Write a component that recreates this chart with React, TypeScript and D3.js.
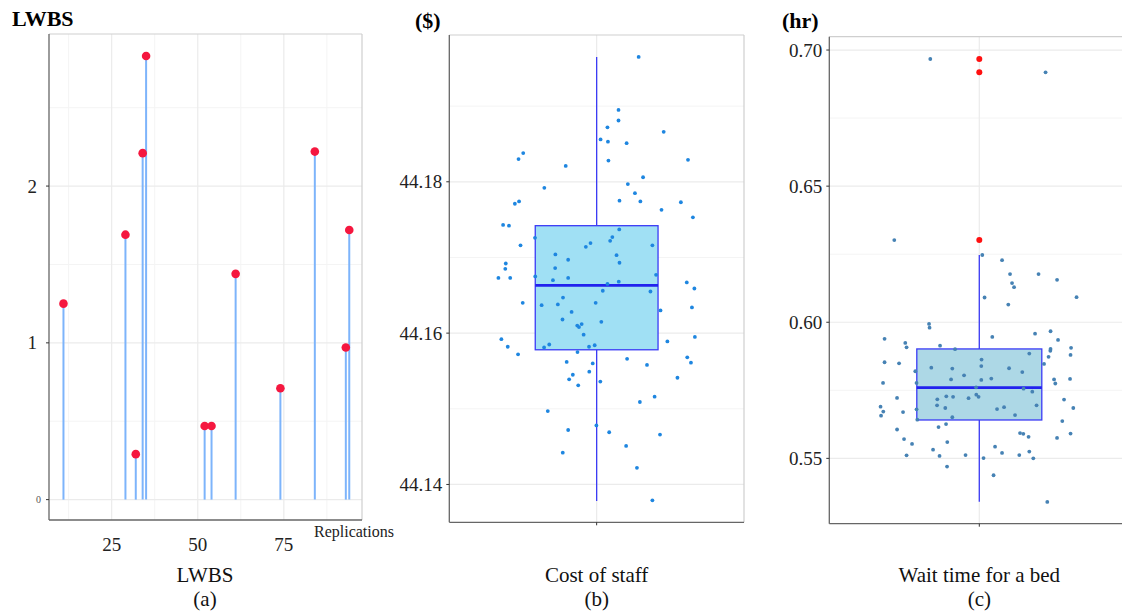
import React from 'react';
import * as d3 from 'd3';

// (a) LWBS per replication
const lwbsReplications = [11, 29, 32, 34, 35, 52, 54, 61, 74, 84, 93, 94];
const lwbsValues = [1.25, 1.69, 0.29, 2.21, 2.83, 0.47, 0.47, 1.44, 0.71, 2.22, 0.97, 1.72];
const lwbsXTicks = [25, 50, 75];
const lwbsYTicks = [0, 1, 2];

// (b) cost of staff: values and horizontal jitter (in category units)
const staffCost = [
  44.1965, 44.1895, 44.1881, 44.1872, 44.1866, 44.1856, 44.1853, 44.1851, 44.1838, 44.183,
  44.1829, 44.1828, 44.1821, 44.1806, 44.1797, 44.1792, 44.1785, 44.1774, 44.1771, 44.1775,
  44.1774, 44.1773, 44.1763, 44.1753, 44.1743, 44.1742, 44.1737, 44.1726, 44.1727, 44.1722,
  44.1719, 44.1714, 44.1716, 44.1716, 44.1704, 44.1703, 44.1697, 44.1692, 44.1693, 44.1685,
  44.1686, 44.1673, 44.1673, 44.1675, 44.167, 44.1673, 44.1677, 44.1668, 44.1665, 44.1667,
  44.1659, 44.1656, 44.1655, 44.1647, 44.164, 44.1637, 44.1638, 44.164, 44.163, 44.1634,
  44.1628, 44.1618, 44.1615, 44.161, 44.1612, 44.1608, 44.1598, 44.1592, 44.1595, 44.1582,
  44.1581, 44.1585, 44.1582, 44.1584, 44.1589, 44.1572, 44.1575, 44.1562, 44.156, 44.1566,
  44.1558, 44.1568, 44.1561, 44.1545, 44.1549, 44.1539, 44.1536, 44.1531, 44.1541, 44.1509,
  44.1516, 44.1497, 44.1472, 44.1478, 44.1469, 44.1466, 44.1451, 44.1442, 44.1422, 44.1379,
];
const staffJitter = [
  0.171, 0.089, 0.089, 0.044, 0.273, 0.016, 0.046, 0.122, -0.299, -0.318,
  0.372, 0.048, -0.126, 0.189, 0.127, -0.213, 0.156, -0.316, -0.333, 0.093,
  0.178, 0.343, 0.264, 0.392, -0.381, -0.357, 0.092, -0.251, 0.064, 0.055,
  -0.025, -0.044, -0.31, 0.227, -0.168, 0.081, -0.116, -0.37, 0.093, -0.372,
  -0.169, -0.4, -0.352, -0.25, -0.178, -0.116, 0.242, 0.09, 0.044, 0.367,
  0.398, 0.025, 0.219, -0.137, -0.301, -0.224, -0.158, -0.004, 0.26, 0.388,
  -0.102, -0.139, 0.019, -0.079, -0.061, -0.072, -0.053, -0.388, 0.4, -0.362,
  -0.214, -0.193, -0.031, -0.008, 0.288, -0.32, -0.078, -0.122, -0.016, 0.124,
  0.205, 0.369, 0.384, -0.097, -0.03, -0.112, 0.015, -0.075, 0.329, 0.176,
  0.236, -0.199, -0.116, -0.001, 0.051, 0.258, 0.12, -0.138, 0.164, 0.227,
];
// lower whisker, q1, median, q3, upper whisker
const staffBox = [44.1378, 44.1578, 44.1663, 44.1742, 44.1965];
const staffOutliers: number[] = [];
const staffYTicks = [44.14, 44.16, 44.18];
const staffYMinor = [44.15, 44.17, 44.19];

// (c) wait time for a bed
const bedWait = [
  0.6967, 0.6918, 0.6302, 0.6247, 0.6228, 0.6177, 0.6177, 0.6156, 0.6144, 0.6129,
  0.6091, 0.6092, 0.6065, 0.5994, 0.598, 0.5946, 0.5958, 0.5967, 0.5939, 0.5935,
  0.5924, 0.5908, 0.5914, 0.5901, 0.5885, 0.5902, 0.5895, 0.5906, 0.588, 0.5873,
  0.5853, 0.5849, 0.5863, 0.5847, 0.5839, 0.5833, 0.583, 0.582, 0.5817, 0.5831,
  0.5805, 0.5777, 0.5777, 0.579, 0.5788, 0.5793, 0.579, 0.5775, 0.5792, 0.5761,
  0.5756, 0.5745, 0.5722, 0.5717, 0.5728, 0.5726, 0.5721, 0.5734, 0.5726, 0.5716,
  0.569, 0.5695, 0.5685, 0.5695, 0.568, 0.5681, 0.5688, 0.5685, 0.567, 0.5672,
  0.5657, 0.5659, 0.5642, 0.5651, 0.5626, 0.5637, 0.5615, 0.5606, 0.5593, 0.559,
  0.5579, 0.5591, 0.5575, 0.5571, 0.5553, 0.556, 0.5543, 0.5532, 0.552, 0.5525,
  0.5511, 0.5509, 0.5512, 0.5512, 0.5501, 0.55, 0.547, 0.5438, 0.534,
];
const bedJitter = [
  -0.196, 0.265, -0.34, 0.012, 0.091, 0.123, 0.237, 0.311, 0.131, 0.139,
  0.021, 0.389, 0.116, -0.201, -0.199, 0.052, 0.223, 0.285, -0.379, 0.315,
  -0.296, -0.291, -0.157, -0.097, 0.2, 0.285, 0.284, 0.367, 0.365, 0.277,
  -0.379, -0.321, 0.009, 0.259, 0.008, -0.192, -0.108, -0.256, 0.172, 0.119,
  -0.061, -0.385, -0.251, -0.113, 0.008, 0.048, 0.299, 0.304, 0.363, -0.013,
  0.177, 0.212, -0.329, -0.168, -0.132, -0.105, -0.043, -0.012, -0.003, 0.339,
  -0.395, -0.169, -0.136, 0.229, -0.251, 0.071, 0.099, 0.376, -0.305, -0.384,
  -0.393, 0.143, -0.248, -0.108, -0.133, 0.332, -0.163, -0.329, 0.163, 0.176,
  0.197, 0.365, 0.311, -0.301, -0.269, -0.128, 0.063, -0.185, 0.091, 0.2,
  -0.291, -0.159, -0.055, 0.16, 0.017, 0.216, -0.129, 0.057, 0.272,
];
const bedBox = [0.5341, 0.5641, 0.576, 0.5902, 0.6247];
const bedOutliers = [0.6967, 0.6918, 0.6302];
const bedYTicks = [0.55, 0.6, 0.65, 0.7];
const bedYMinor = [0.575, 0.625, 0.675];

const FONT = '"Liberation Serif", "DejaVu Serif", serif';
const GRID = '#ebebeb';
const GRID_MINOR = '#f4f4f4';
const AXIS = '#666';

type Rect = { left: number; right: number; top: number; bottom: number };

const Frame = ({ r }: { r: Rect }) => (
  <g>
    <line x1={r.left} x2={r.right} y1={r.top} y2={r.top} stroke="#cfcfcf" strokeWidth={1.2} />
    <line x1={r.right} x2={r.right} y1={r.top} y2={r.bottom} stroke="#cfcfcf" strokeWidth={1.2} />
    <line x1={r.left} x2={r.left} y1={r.top} y2={r.bottom} stroke={AXIS} strokeWidth={1.3} />
    <line x1={r.left} x2={r.right} y1={r.bottom} y2={r.bottom} stroke={AXIS} strokeWidth={1.3} />
  </g>
);

const LollipopPanel = () => {
  const r: Rect = { left: 49, right: 362, top: 34, bottom: 520 };
  const x = d3.scaleLinear().domain([6.8, 97.7]).range([r.left, r.right]);
  const y = d3.scaleLinear().domain([-0.13, 2.97]).range([r.bottom, r.top]);
  const xMinor = [12.5, 37.5, 62.5, 87.5];
  const yMinor = [0.5, 1.5, 2.5];
  return (
    <g>
      {yMinor.map((v) => (
        <line key={'ym' + v} x1={r.left} x2={r.right} y1={y(v)} y2={y(v)} stroke={GRID_MINOR} />
      ))}
      {xMinor.map((v) => (
        <line key={'xm' + v} y1={r.top} y2={r.bottom} x1={x(v)} x2={x(v)} stroke={GRID_MINOR} />
      ))}
      {lwbsYTicks.map((v) => (
        <line key={'y' + v} x1={r.left} x2={r.right} y1={y(v)} y2={y(v)} stroke={GRID} strokeWidth={1.2} />
      ))}
      {lwbsXTicks.map((v) => (
        <line key={'x' + v} y1={r.top} y2={r.bottom} x1={x(v)} x2={x(v)} stroke={GRID} strokeWidth={1.2} />
      ))}
      {lwbsReplications.map((rep, i) => (
        <line key={'s' + i} x1={x(rep)} x2={x(rep)} y1={y(0)} y2={y(lwbsValues[i])} stroke="#7db4fb" strokeWidth={2} />
      ))}
      {lwbsReplications.map((rep, i) => (
        <circle key={'p' + i} cx={x(rep)} cy={y(lwbsValues[i])} r={4.3} fill="#f5173f" />
      ))}
      <Frame r={r} />
      {lwbsYTicks.map((v) => (
        <g key={'yt' + v}>
          <line x1={r.left - 3} x2={r.left} y1={y(v)} y2={y(v)} stroke="#333" />
          <text
            x={v === 0 ? r.left - 8 : r.left - 12}
            y={y(v)}
            dy="0.35em"
            textAnchor="end"
            fontSize={v === 0 ? 10 : 19}
            fill={v === 0 ? '#555' : '#222'}
          >
            {v}
          </text>
        </g>
      ))}
      {lwbsXTicks.map((v) => (
        <text key={'xt' + v} x={x(v)} y={551} textAnchor="middle" fontSize={19} fill="#222">
          {v}
        </text>
      ))}
      <text x={354} y={537} textAnchor="middle" fontSize={16} fill="#222">Replications</text>
      <text x={12} y={26} fontSize={22} fontWeight="bold" fill="#000">LWBS</text>
      <text x={205} y={582} textAnchor="middle" fontSize={21} fill="#111">LWBS</text>
      <text x={205} y={606} textAnchor="middle" fontSize={21} fill="#111">(a)</text>
    </g>
  );
};

type BoxProps = {
  r: Rect;
  yDomain: [number, number];
  values: number[];
  jitter: number[];
  box: number[];
  outliers: number[];
  ticks: number[];
  minor: number[];
  fmt: (v: number) => string;
  fill: string;
  dot: string;
  unit: string;
  unitX: number;
  label: string;
  tag: string;
};

const BoxPanel = (p: BoxProps) => {
  const { r } = p;
  const x = d3.scaleLinear().domain([-0.6, 0.6]).range([r.left, r.right]);
  const y = d3.scaleLinear().domain(p.yDomain).range([r.bottom, r.top]);
  const [lo, q1, med, q3, hi] = p.box;
  const half = 0.25;
  const cx = x(0);
  const clipId = 'clip' + p.tag;
  return (
    <g>
      <defs>
        <clipPath id={clipId}>
          <rect x={r.left} y={r.top} width={1122 - r.left} height={r.bottom - r.top} />
        </clipPath>
      </defs>
      <g clipPath={`url(#${clipId})`}>
        {p.minor.map((v) => (
          <line key={'m' + v} x1={r.left} x2={r.right} y1={y(v)} y2={y(v)} stroke={GRID_MINOR} />
        ))}
        {p.ticks.map((v) => (
          <line key={'g' + v} x1={r.left} x2={r.right} y1={y(v)} y2={y(v)} stroke={GRID} strokeWidth={1.2} />
        ))}
        <line x1={cx} x2={cx} y1={r.top} y2={r.bottom} stroke={GRID} strokeWidth={1.2} />
        <line x1={cx} x2={cx} y1={y(hi)} y2={y(q3)} stroke="#3b3bf5" strokeWidth={1.3} />
        <line x1={cx} x2={cx} y1={y(q1)} y2={y(lo)} stroke="#3b3bf5" strokeWidth={1.3} />
        <rect
          x={x(-half)}
          y={y(q3)}
          width={x(half) - x(-half)}
          height={y(q1) - y(q3)}
          fill={p.fill}
          stroke="#3b3bf5"
          strokeWidth={1.3}
        />
        <line x1={x(-half)} x2={x(half)} y1={y(med)} y2={y(med)} stroke="#2222ee" strokeWidth={2.8} />
        {p.outliers.map((v, i) => (
          <circle key={'o' + i} cx={cx} cy={y(v)} r={3} fill="#ff1010" />
        ))}
        {p.values.map((v, i) => (
          <circle key={'d' + i} cx={x(p.jitter[i])} cy={y(v)} r={1.9} fill={p.dot} />
        ))}
      </g>
      <Frame r={r} />
      <line x1={cx} x2={cx} y1={r.bottom} y2={r.bottom + 3} stroke="#333" />
      {p.ticks.map((v) => (
        <g key={'t' + v}>
          <line x1={r.left - 3} x2={r.left} y1={y(v)} y2={y(v)} stroke="#333" />
          <text x={r.left - 7} y={y(v)} dy="0.35em" textAnchor="end" fontSize={19} fill="#222">
            {p.fmt(v)}
          </text>
        </g>
      ))}
      <text x={p.unitX} y={28} fontSize={22} fontWeight="bold" fill="#000">{p.unit}</text>
      <text x={cx} y={582} textAnchor="middle" fontSize={21} fill="#111">{p.label}</text>
      <text x={cx} y={606} textAnchor="middle" fontSize={21} fill="#111">({p.tag})</text>
    </g>
  );
};

const App = () => {
  return (
    <svg
      width={1122}
      height={613}
      style={{ position: 'absolute', left: 0, top: 0, background: '#fff' }}
      fontFamily={FONT}
    >
      <rect width={1122} height={613} fill="#fff" />
      <LollipopPanel />
      <BoxPanel
        r={{ left: 449.3, right: 744, top: 35, bottom: 522.3 }}
        yDomain={[44.135, 44.1994]}
        values={staffCost}
        jitter={staffJitter}
        box={staffBox}
        outliers={staffOutliers}
        ticks={staffYTicks}
        minor={staffYMinor}
        fmt={d3.format('.2f')}
        fill="#a0e0f4"
        dot="#1e86e0"
        unit="($)"
        unitX={415}
        label="Cost of staff"
        tag="b"
      />
      <BoxPanel
        r={{ left: 829.3, right: 1129.3, top: 36.7, bottom: 523.7 }}
        yDomain={[0.526, 0.7049]}
        values={bedWait}
        jitter={bedJitter}
        box={bedBox}
        outliers={bedOutliers}
        ticks={bedYTicks}
        minor={bedYMinor}
        fmt={d3.format('.2f')}
        fill="#add8e6"
        dot="#4682b4"
        unit="(hr)"
        unitX={782}
        label="Wait time for a bed"
        tag="c"
      />
    </svg>
  );
};

export default App;
